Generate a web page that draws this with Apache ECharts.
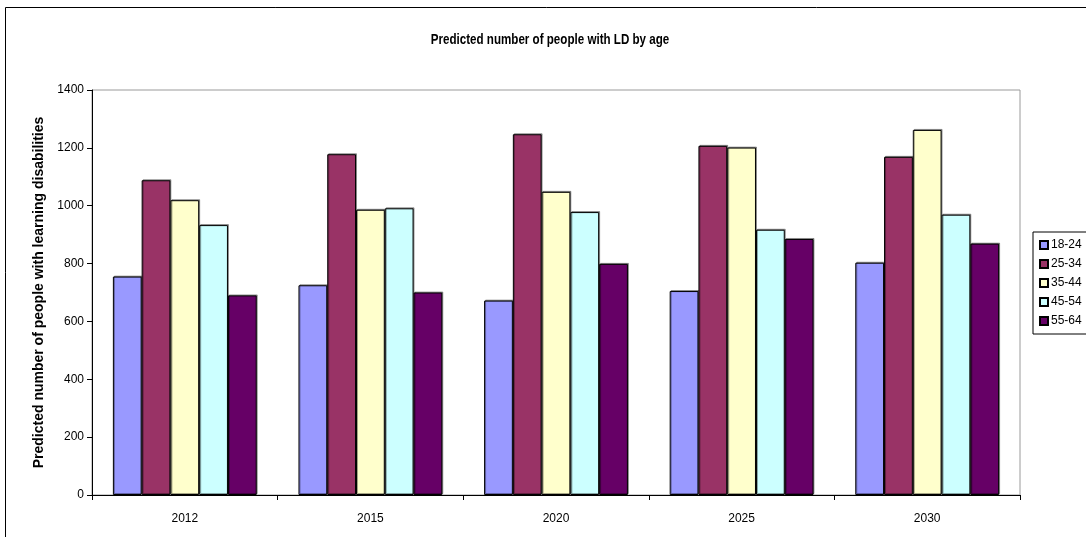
<!DOCTYPE html>
<html>
<head>
<meta charset="utf-8">
<script src="https://cdn.jsdelivr.net/npm/echarts@6/dist/echarts.min.js"></script>
<style>
  html, body { margin: 0; padding: 0; background: #fff; }
  #chart { width: 1086px; height: 537px; }
</style>
</head>
<body>
<div id="chart"></div>
<script>
// Years on the category axis
const years = ['2012', '2015', '2020', '2025', '2030'];

// Age bands and their predicted counts per year
const ageBands = ['18-24', '25-34', '35-44', '45-54', '55-64'];
const age18to24 = [755, 725, 672, 705, 803];
const age25to34 = [1088, 1178, 1247, 1207, 1169];
const age35to44 = [1019, 986, 1048, 1201, 1262];
const age45to54 = [933, 991, 978, 917, 969];
const age55to64 = [690, 700, 799, 885, 869];

const bandValues = [age18to24, age25to34, age35to44, age45to54, age55to64];
const bandColors = ['#9999FF', '#993366', '#FFFFCC', '#CCFFFF', '#660066'];

const chartTitle = 'Predicted number of people with LD by age';
const FONT = 'Liberation Sans, Arial, sans-serif';

const chart = echarts.init(document.getElementById('chart'));

const series = ageBands.map((name, i) => ({
  name: name,
  type: 'bar',
  data: bandValues[i],
  barWidth: '15.5%',
  barGap: '0%',
  itemStyle: {
    color: bandColors[i],
    borderColor: '#000',
    borderWidth: 1,
    shadowColor: 'rgba(0,0,0,0.35)',
    shadowOffsetX: 1,
    shadowOffsetY: -1,
    shadowBlur: 0
  },
  emphasis: { disabled: true }
}));

chart.setOption({
  animation: false,
  backgroundColor: '#fff',
  graphic: [
    {
      // outer chart frame
      type: 'rect',
      shape: { x: 5.5, y: 7.5, width: 1100, height: 560 },
      style: { fill: 'none', stroke: '#000', lineWidth: 1 },
      silent: true,
      z: 100
    },
    {
      // condensed bold heading
      type: 'text',
      x: 550,
      y: 40,
      scaleX: 0.8,
      style: {
        text: chartTitle,
        font: 'bold 14.5px ' + FONT,
        fill: '#000',
        align: 'center',
        verticalAlign: 'middle'
      },
      silent: true
    }
  ],
  legend: {
    orient: 'vertical',
    left: 1033,
    top: 232,
    padding: [6, 30, 6, 6],
    itemGap: 5,
    itemWidth: 8,
    itemHeight: 8,
    borderColor: '#000',
    borderWidth: 1,
    icon: 'rect',
    textStyle: { fontFamily: FONT, fontSize: 12, color: '#000', padding: [0, 0, 0, -2], lineHeight: 14 },
    data: ageBands
  },
  grid: {
    left: 92,
    right: 66,
    top: 90,
    bottom: 42,
    show: true,
    borderColor: '#9a9a9a',
    borderWidth: 1,
    backgroundColor: 'transparent'
  },
  xAxis: {
    type: 'category',
    data: years,
    axisLine: { lineStyle: { color: '#000', width: 1 } },
    axisTick: { show: true, length: 5, inside: false, lineStyle: { color: '#000' } },
    axisLabel: { fontFamily: FONT, fontSize: 12, color: '#000', margin: 18 }
  },
  yAxis: {
    type: 'value',
    min: 0,
    max: 1400,
    interval: 200,
    name: 'Predicted number of people with learning disabilities',
    nameLocation: 'middle',
    nameGap: 37,
    nameTextStyle: { fontFamily: FONT, fontSize: 14, fontWeight: 'bold', color: '#000' },
    axisLine: { show: true, lineStyle: { color: '#000', width: 1 } },
    axisTick: { show: true, length: 5, lineStyle: { color: '#000' } },
    axisLabel: { fontFamily: FONT, fontSize: 12, color: '#000', margin: 8, formatter: v => String(v) },
    splitLine: { show: false }
  },
  series: series
});
</script>
</body>
</html>
